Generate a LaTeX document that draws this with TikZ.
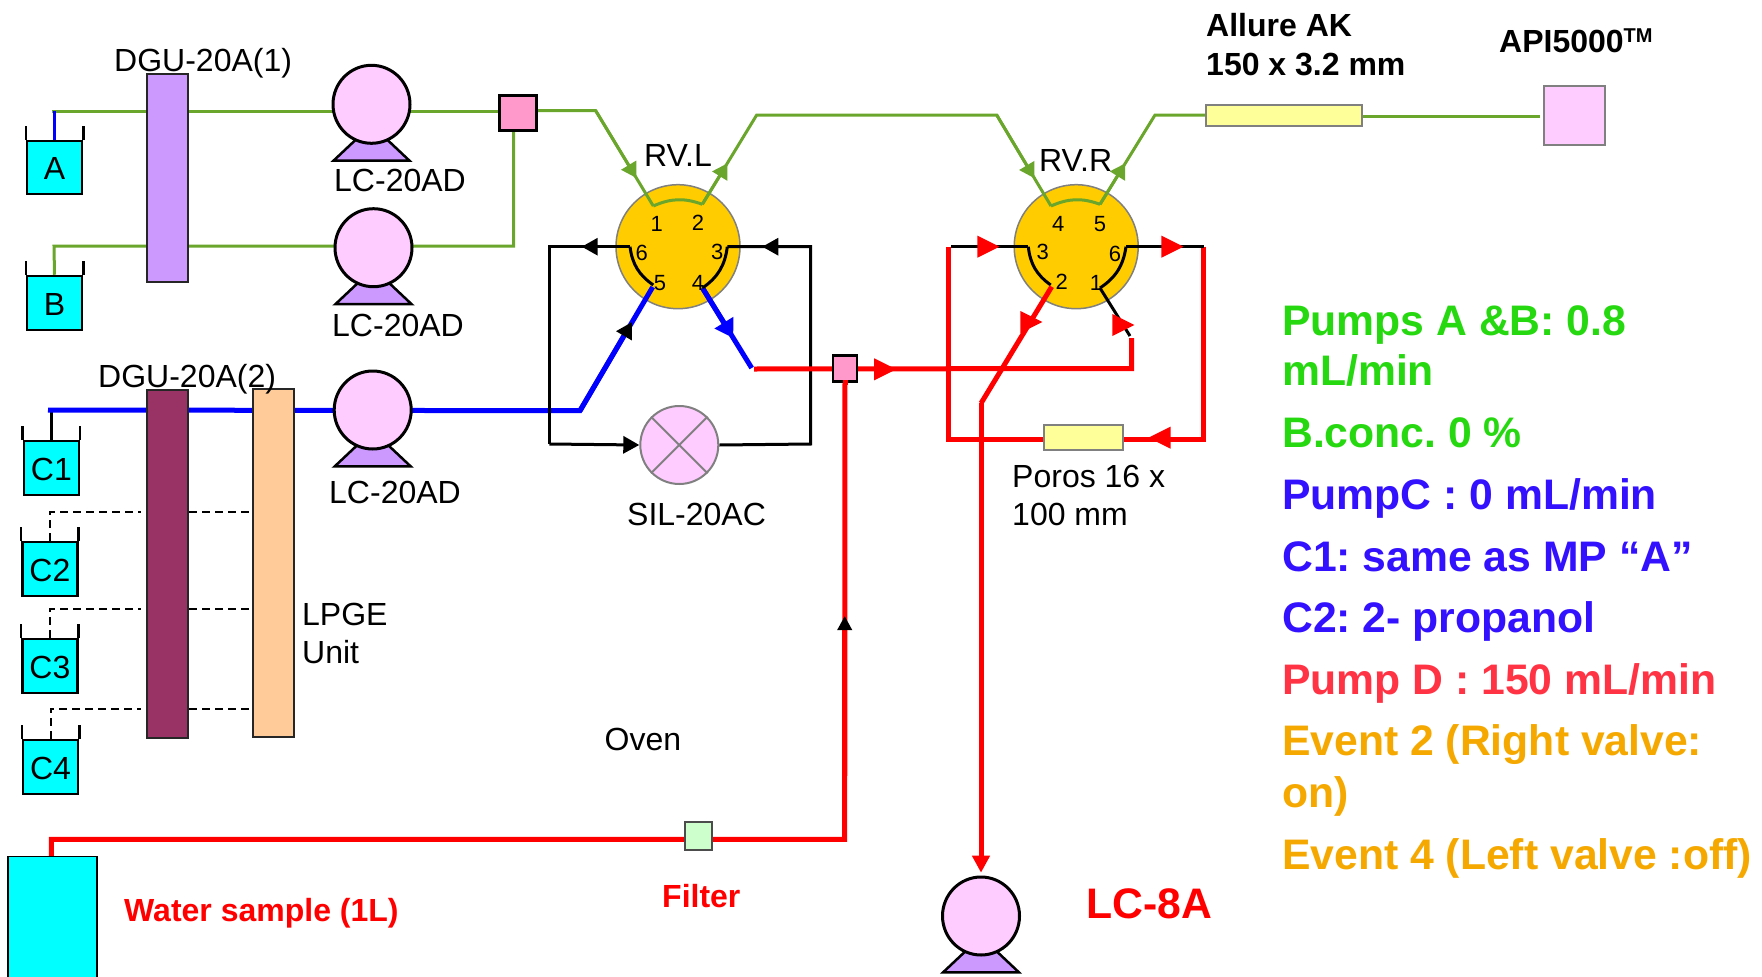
\documentclass[tikz,border=0pt]{standalone}
\usepackage{fontspec}
\setmainfont{Liberation Sans}
\usetikzlibrary{arrows.meta, shapes.geometric, calc}

\definecolor{pipegreen}{HTML}{6AA62B}
\definecolor{bottlecyan}{HTML}{00FFFF}
\definecolor{pumppink}{HTML}{FFCCFF}
\definecolor{footpurple}{HTML}{CC99FF}
\definecolor{mixpink}{HTML}{FF99CC}
\definecolor{valvegold}{HTML}{FFCC00}
\definecolor{columnyellow}{HTML}{FFFF99}
\definecolor{lpgepeach}{HTML}{FFCC99}
\definecolor{dguplum}{HTML}{993366}
\definecolor{filtergreen}{HTML}{CCFFCC}
\definecolor{notegreen}{HTML}{25D80F}
\definecolor{noteblue}{HTML}{3311FF}
\definecolor{notered}{HTML}{FF3344}
\definecolor{noteorange}{HTML}{F5A800}

\pgfdeclarelayer{valves}
\pgfdeclarelayer{pipes}
\pgfsetlayers{valves,pipes,main}

\tikzstyle{caption}=[anchor=base west, inner sep=0, font=\fontsize{32}{38}\selectfont]
\tikzstyle{boldcap}=[caption, font=\bfseries\fontsize{32}{38}\selectfont]
\tikzstyle{note}=[anchor=base west, inner sep=0, font=\frenchspacing\bfseries\fontsize{42.7}{50}\selectfont]
\tikzstyle{port}=[inner sep=0, font=\fontsize{22}{22}\selectfont]
\tikzstyle{bottle}=[rectangle, draw=black, fill=bottlecyan, line width=2.5, inner sep=0, font=\fontsize{32}{32}\selectfont, text height=24.5pt, text depth=0pt, minimum width=55, minimum height=54]
\tikzstyle{rim}=[line width=2.5]
\tikzstyle{pump}=[ellipse, draw=black, fill=pumppink, line width=3, inner sep=0, minimum width=77, minimum height=78]
\tikzstyle{foot}=[draw=black, fill=footpurple, line width=2.5, line join=miter]
\tikzstyle{valve}=[circle, draw=gray, fill=valvegold, line width=1.5, inner sep=0, minimum size=124]
\tikzstyle{block}=[rectangle, draw=black!85, line width=2, inner sep=0]
\tikzstyle{mixer}=[rectangle, draw=black, fill=mixpink, line width=2.5, inner sep=0]
\tikzstyle{column}=[rectangle, draw=gray, fill=columnyellow, line width=2, inner sep=0]
\tikzstyle{greenpipe}=[draw=pipegreen, line width=3]
\tikzstyle{bluepipe}=[draw=blue, line width=5]
\tikzstyle{redpipe}=[draw=red, line width=5]
\tikzstyle{blackpipe}=[draw=black, line width=3]
\tikzstyle{dashpipe}=[draw=black, line width=2, dash pattern=on 8pt off 5pt]
\tikzstyle{greentip}=[-{Triangle[length=15pt, width=17pt]}]
\tikzstyle{blacktip}=[-{Triangle[black, length=16pt, width=17pt]}]
\tikzstyle{bluetip}=[-{Triangle[blue, length=18pt, width=21pt]}]
\tikzstyle{redtip}=[isosceles triangle, isosceles triangle stretches, fill=red, inner sep=0, minimum width=22, minimum height=22, anchor=apex]

\newcommand{\pumpfoot}[1]{%
  \begin{pgfonlayer}{valves}
    \draw[foot] ([shift={(-38,56.4)}]#1.center) -- ([shift={(38,56.4)}]#1.center)
      -- ([shift={(10,30)}]#1.center) -- ([shift={(-10,30)}]#1.center) -- cycle;
  \end{pgfonlayer}}

\begin{document}
\begin{tikzpicture}[x=1pt, y=-1pt]
      \useasboundingbox (0,0) rectangle (1762,977);
      \clip (0,0) rectangle (1762,977);

      % bends of the lines
      \coordinate (inA) at (52, 111);
      \coordinate (inB) at (54, 246);
      \coordinate (inC) at (48, 410);
      \coordinate (dropAB) at (513.5, 131);
      \coordinate (cornerAB) at (513.5, 246);
      \coordinate (bendG1) at (595.7, 110.7);
      \coordinate (portL1) at (653.3, 206);
      \coordinate (portL2) at (702.3, 204.3);
      \coordinate (bendG2) at (756.7, 115);
      \coordinate (bendG3) at (996.7, 115);
      \coordinate (portR4) at (1051, 206);
      \coordinate (portR5) at (1100, 204.3);
      \coordinate (bendG4) at (1155, 115);
      \coordinate (tipG1) at (636.4, 178);
      \coordinate (tipG2) at (727.5, 163.3);
      \coordinate (tipG3) at (1034.5, 178.3);
      \coordinate (tipG4) at (1125.3, 163.3);
      \coordinate (bendB) at (580, 410.7);
      \coordinate (portL5) at (652.7, 287);
      \coordinate (portL4) at (702.5, 288);
      \coordinate (endB) at (751.7, 368);
      \coordinate (tipB1) at (632, 322);
      \coordinate (tipB2) at (733.3, 338);
      \coordinate (portL6) at (630, 246.7);
      \coordinate (portL3) at (727.3, 246.7);
      \coordinate (endL6) at (653.3, 285);
      \coordinate (cornerK1) at (549.3, 246.7);
      \coordinate (cornerK2) at (549.3, 444);
      \coordinate (cornerK3) at (810.7, 444);
      \coordinate (cornerK4) at (810.7, 246.7);
      \coordinate (tipK1) at (581.7, 246.7);
      \coordinate (tipK4) at (762.3, 246.7);
      \coordinate (startR) at (754, 369);
      \coordinate (cornerR1) at (1131.7, 368.5);
      \coordinate (cornerR2) at (1131.7, 338);
      \coordinate (portR1) at (1100, 288);
      \coordinate (endK) at (1130, 336);
      \coordinate (portR2) at (1051.7, 286.7);
      \coordinate (endR3) at (1050.7, 285);
      \coordinate (bendR) at (981, 403.3);
      \coordinate (tipD) at (981, 872.7);
      \coordinate (portR3) at (1028.3, 246.7);
      \coordinate (portR6) at (1126, 246.7);
      \coordinate (cornerR3) at (948.3, 246.7);
      \coordinate (cornerR4) at (948.3, 439);
      \coordinate (cornerR5) at (1203.3, 246.7);
      \coordinate (cornerR6) at (1203.3, 439);
      \coordinate (startK3) at (951, 246.7);
      \coordinate (endK6) at (1204, 246.7);
      \coordinate (startW) at (51.4, 858);
      \coordinate (cornerW1) at (51.4, 839.3);
      \coordinate (cornerW2) at (844.7, 839.3);
      \coordinate (tipW) at (844.7, 616);
      \coordinate (outMS) at (1540, 116);
      \coordinate (dashC2) at (49.5, 512);
      \coordinate (dashC3) at (49.5, 609);
      \coordinate (dashC4) at (50, 708.7);

      % valves
      \begin{pgfonlayer}{valves}
        \node[valve] (rvl) at (678, 246.7) {};
        \node[valve] (rvr) at (1076.2, 246.7) {};
      \end{pgfonlayer}

      % solvent bottles
      \node[bottle, minimum height=53] (bottleA) at (54.5, 167.3) {A};
      \node[bottle, minimum height=54] (bottleB) at (54.5, 303) {B};
      \node[bottle] (bottleC1) at (51.4, 468) {C1};
      \node[bottle] (bottleC2) at (49.9, 568.8) {C2};
      \node[bottle] (bottleC3) at (49.9, 665.8) {C3};
      \node[bottle] (bottleC4) at (50.5, 767) {C4};
      \draw[rim] (bottleA.north west) -- ++(0,-14);
      \draw[rim] (bottleA.north east) -- ++(0,-14);
      \draw[rim] (bottleB.north west) -- ++(0,-14);
      \draw[rim] (bottleB.north east) -- ++(0,-14);
      \draw[rim] (bottleC1.north west) -- ++(0,-14);
      \draw[rim] (bottleC1.north east) -- ++(0,-14);
      \draw[rim] (bottleC2.north west) -- ++(0,-14);
      \draw[rim] (bottleC2.north east) -- ++(0,-14);
      \draw[rim] (bottleC3.north west) -- ++(0,-14);
      \draw[rim] (bottleC3.north east) -- ++(0,-14);
      \draw[rim] (bottleC4.north west) -- ++(0,-14);
      \draw[rim] (bottleC4.north east) -- ++(0,-14);
      \node[rectangle, fill=bottlecyan, draw=black, line width=1.5, inner sep=0, minimum width=89, minimum height=140] (bottleW) at (52.6, 926.7) {};

      % degassers and units
      \node[block, fill=footpurple, minimum width=41, minimum height=208] (dguA) at (167.5, 177.8) {};
      \node[block, fill=dguplum, minimum width=41, minimum height=348] (dguB) at (167.8, 564) {};
      \node[block, fill=lpgepeach, minimum width=41, minimum height=348] (lpge) at (273.1, 562.8) {};

      % pumps
      \node[pump] (lcA) at (371.5, 104.3) {};
      \node[pump] (lcB) at (373.5, 247.7) {};
      \node[pump] (lcC) at (372.7, 410) {};
      \node[pump] (lcD) at (981, 916) {};
      \pumpfoot{lcA}
      \pumpfoot{lcB}
      \pumpfoot{lcC}
      \pumpfoot{lcD}

      % mixers, injector, columns
      \node[mixer, minimum width=37, minimum height=35] (mixAB) at (518, 113) {};
      \node[mixer, minimum width=24, minimum height=26] (mixW) at (845, 368.7) {};
      \node[circle, draw=gray, fill=pumppink, line width=2, inner sep=0, minimum size=78] (sil) at (679.3, 445) {};
      \draw[draw=gray, line width=2] (sil.north west) -- (sil.south east);
      \draw[draw=gray, line width=2] (sil.north east) -- (sil.south west);
      \node[column, minimum width=156, minimum height=21] (allure) at (1284.3, 115.8) {};
      \node[column, minimum width=79, minimum height=25] (poros) at (1083, 437.2) {};
      \node[rectangle, draw=gray, fill=pumppink, line width=2, inner sep=0, minimum width=61, minimum height=59] (ms) at (1574, 115.3) {};
      \node[rectangle, draw=black!70, fill=filtergreen, line width=2, inner sep=0, minimum width=27, minimum height=28] (filter) at (698.3, 835.8) {};

      \begin{pgfonlayer}{pipes}
        % green line
        \draw[greenpipe] (inA) -- (inA -| mixAB);
        \draw[draw=blue, line width=3] (inA -| bottleA) -- (bottleA.north);
        \draw[greenpipe] (bottleB.north) -- (inB) -- (cornerAB) -- (dropAB);
        \draw[greenpipe] (bendG1 -| mixAB) -- (bendG1) -- (portL1);
        \draw[greenpipe, greentip] (bendG1) -- (tipG1);
        \draw[greenpipe, bend left=22] (portL1) to (portL2);
        \draw[greenpipe] (portL2) -- (bendG2) -- (bendG3) -- (portR4);
        \draw[greenpipe, greentip] (portL2) -- (tipG2);
        \draw[greenpipe, greentip] (bendG3) -- (tipG3);
        \draw[greenpipe, bend left=22] (portR4) to (portR5);
        \draw[greenpipe] (portR5) -- (bendG4) -- (bendG4 -| allure);
        \draw[greenpipe, greentip] (portR5) -- (tipG4);
        \draw[greenpipe] (allure |- outMS) -- (outMS);

        % blue line
        \draw[blackpipe] (inC -| bottleC1) -- (bottleC1.north);
        \draw[bluepipe] (inC) -- (bendB) -- (portL5);
        \draw[bluepipe, blacktip] (bendB) -- (tipB1);
        \draw[bluepipe] (portL4) -- (endB);
        \draw[bluepipe, bluetip] (portL4) -- (tipB2);

        % sample loop
        \draw[blackpipe] (portL6) -- (cornerK1) -- (cornerK2);
        \draw[blackpipe, blacktip] (portL6) -- (tipK1);
        \draw[blackpipe, blacktip] (cornerK2) -- (sil.west);
        \draw[blackpipe] (sil.east) -- (cornerK3) -- (cornerK4) -- (portL3);
        \draw[blackpipe, blacktip] (cornerK4) -- (tipK4);
        \draw[blackpipe, bend right=24] (portL6) to (endL6);
        \draw[blackpipe, bend left=24] (portL3) to (portL4);

        % red line
        \draw[redpipe] (cornerR3) -- (cornerR4) -- (cornerR4 -| poros);
        \draw[redpipe] (cornerR5) -- (cornerR6) -- (cornerR6 -| poros);
        \draw[redpipe] (startR) -- (cornerR1) -- (cornerR2);
        \draw[blackpipe] (startK3) -- (portR3);
        \draw[blackpipe] (portR6) -- (endK6);
        \draw[blackpipe, bend right=24] (portR3) to (endR3);
        \draw[blackpipe, bend left=24] (portR6) to (portR1);
        \draw[blackpipe] (portR1) -- (endK);
        \draw[redpipe] (portR2) -- (bendR);
        \draw[redpipe, -{Triangle[length=17pt, width=17pt]}] (bendR) -- (tipD);
        \draw[redpipe] (bottleW.north -| startW) -- (cornerW1) -- (cornerW2) -- (mixW);
        \draw[redpipe, -{Triangle[black, length=14pt, width=14pt]}] (cornerW2) -- (tipW);

        % dashed C lines
        \draw[dashpipe, shorten >=5pt] (bottleC2.north) |- (dashC2 -| dguB.west);
        \draw[dashpipe, shorten >=5pt] (bottleC3.north) |- (dashC3 -| dguB.west);
        \draw[dashpipe, shorten >=5pt] (bottleC4.north) |- (dashC4 -| dguB.west);
        \draw[dashpipe] (dashC2 -| dguB.east) -- (dashC2 -| lpge.west);
        \draw[dashpipe] (dashC3 -| dguB.east) -- (dashC3 -| lpge.west);
        \draw[dashpipe] (dashC4 -| dguB.east) -- (dashC4 -| lpge.west);
      \end{pgfonlayer}

      \draw[redpipe] (mixW.south) ++(0,-2.5) -- ++(0,5);

      % red flow marks
      \node[redtip] (markR3) at (1000, 246.7) {};
      \node[redtip] (markR6) at (1184, 246.7) {};
      \node[redtip, shape border rotate=180] (markPoros) at (1148, 437.7) {};
      \node[redtip] (markR1) at (1135, 325) {};
      \node[redtip] (markR2) at (1043, 322) {};
      \node[redtip] (markMix) at (896.7, 369.3) {};

      % valve ports
      \node[port] (l1) at (656.7, 224) {1};
      \node[port] (l2) at (698, 223) {2};
      \node[port] (l3) at (717.3, 252) {3};
      \node[port] (l4) at (698, 283) {4};
      \node[port] (l5) at (660, 283) {5};
      \node[port] (l6) at (641.7, 252.7) {6};
      \node[port] (r1) at (1096, 282.7) {1};
      \node[port] (r2) at (1061.7, 282.3) {2};
      \node[port] (r3) at (1042.7, 252.3) {3};
      \node[port] (r4) at (1058.3, 224) {4};
      \node[port] (r5) at (1100, 224) {5};
      \node[port] (r6) at (1115, 254) {6};

      % captions
      \node[caption] (capDguA) at (114, 71.7) {DGU-20A(1)};
      \node[caption] (capDguB) at (98, 387.5) {DGU-20A(2)};
      \node[caption] (capLcA) at (334, 191.5) {LC-20AD};
      \node[caption] (capLcB) at (332, 336) {LC-20AD};
      \node[caption] (capLcC) at (329, 503) {LC-20AD};
      \node[caption] (capLpgeA) at (302, 625) {LPGE};
      \node[caption] (capLpgeB) at (302, 663) {Unit};
      \node[caption] (capOven) at (604.5, 750) {Oven};
      \node[caption] (capSil) at (627, 525) {SIL-20AC};
      \node[caption] (capRvl) at (644, 166.7) {RV.L};
      \node[caption] (capRvr) at (1039, 171.7) {RV.R};
      \node[caption] (capPorosA) at (1012, 487) {Poros 16 x};
      \node[caption] (capPorosB) at (1012, 525) {100 mm};
      \node[boldcap] (capAllureA) at (1206, 36.7) {Allure AK};
      \node[boldcap] (capAllureB) at (1206, 75) {150 x 3.2 mm};
      \node[boldcap] (capApi) at (1499, 52.7) {API5000\raisebox{10pt}{\fontsize{20}{20}\selectfont TM}};
      \node[boldcap, text=red] (capWater) at (124, 921.7) {Water sample (1L)};
      \node[boldcap, text=red] (capFilter) at (662, 907.7) {Filter};
      \node[note, text=red] (capLc8) at (1086, 918) {LC-8A};

      % conditions
      \node[note, text=notegreen] (noteA) at (1282, 335) {Pumps A \&B: 0.8};
      \node[note, text=notegreen] (noteB) at (1282, 385) {mL/min};
      \node[note, text=notegreen] (noteC) at (1282, 447) {B.conc. 0 \%};
      \node[note, text=noteblue] (noteD) at (1282, 509) {PumpC : 0 mL/min};
      \node[note, text=noteblue] (noteE) at (1282, 571) {C1: same as MP “A”};
      \node[note, text=noteblue] (noteF) at (1282, 632) {C2: 2- propanol};
      \node[note, text=notered] (noteG) at (1282, 694) {Pump D : 150 mL/min};
      \node[note, text=noteorange] (noteH) at (1282, 755) {Event 2 (Right valve:};
      \node[note, text=noteorange] (noteI) at (1282, 807) {on)};
      \node[note, text=noteorange] (noteJ) at (1282, 869) {Event 4 (Left valve :off)};
\end{tikzpicture}
\end{document}
